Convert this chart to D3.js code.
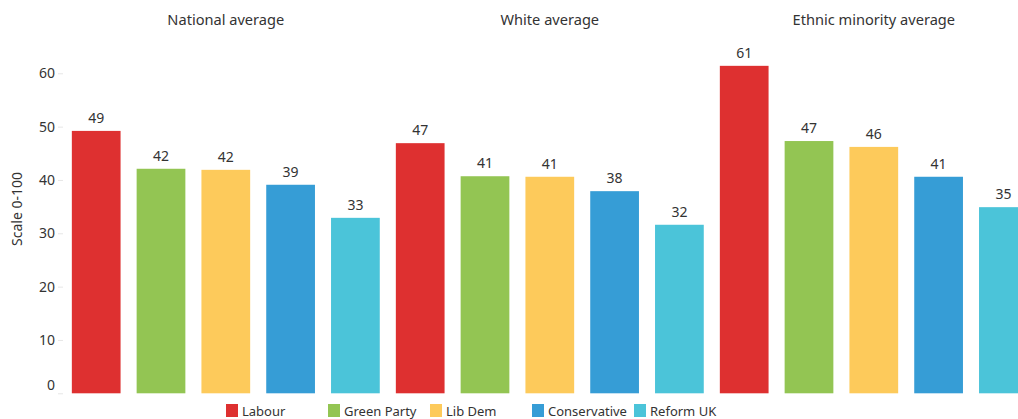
<!DOCTYPE html>
<html><head><meta charset="utf-8">
<script src="https://cdn.jsdelivr.net/npm/d3@7"></script>
<style>body{margin:0;background:#fff;}svg{display:block;font-family:"Noto Sans",sans-serif;}</style>
</head><body><svg id="c" width="1018" height="419"></svg>
<script>
const groups = ["National average", "White average", "Ethnic minority average"];
const parties = ["Labour", "Green Party", "Lib Dem", "Conservative", "Reform UK"];
const colors = ["#de3030", "#93c553", "#fdca5b", "#369dd6", "#4bc4d9"];
const national = [49.2, 42.1, 41.9, 39.1, 32.9];
const white = [46.9, 40.7, 40.6, 37.9, 31.6];
const ethnic = [61.4, 47.3, 46.2, 40.6, 34.9];
const yTicks = [0, 10, 20, 30, 40, 50, 60];

const seriesByGroup = [national, white, ethnic];
const data = [];
groups.forEach((g, gi) => parties.forEach((p, pi) => data.push({group: g, party: p, pi, key: g + "|" + p, value: seriesByGroup[gi][pi]})));

const svg = d3.select("#c");
const x = d3.scaleBand().domain(data.map(d => d.key)).range([63.8, 63.8 + 15 * 64.8]).paddingInner(0.248).paddingOuter(0.124);
const y = d3.scaleLinear().domain([0, 60]).range([393.3, 73.3]);
const color = d3.scaleOrdinal().domain(parties).range(colors);

// y axis
const yAxis = d3.axisLeft(y).tickValues(yTicks).tickSize(5).tickPadding(3);
const ga = svg.append("g").attr("transform", "translate(63,0)").call(yAxis);
ga.select(".domain").remove();
ga.selectAll(".tick line").attr("stroke", "#e6e6e6");
ga.selectAll(".tick text").attr("fill", "#333").style("font-size", "14px").style("font-family", "Noto Sans");
ga.selectAll(".tick").filter(d => d === 0).select("text").attr("dy", "-0.3em");

svg.append("text").attr("transform", "translate(22,209) rotate(-90)").attr("text-anchor", "middle")
  .attr("fill", "#333").style("font-size", "14px").text("Scale 0-100");

// bars
svg.append("g").selectAll("rect").data(data).join("rect")
  .attr("x", d => x(d.key)).attr("width", x.bandwidth())
  .attr("y", d => y(d.value)).attr("height", d => y(0) - y(d.value))
  .attr("fill", d => color(d.party));

svg.append("g").selectAll("text").data(data).join("text")
  .attr("x", d => x(d.key) + x.bandwidth() / 2).attr("y", d => y(d.value) - 8)
  .attr("text-anchor", "middle").attr("fill", "#333").style("font-size", "14px")
  .text(d => Math.round(d.value));

// group titles
svg.append("g").selectAll("text").data(groups).join("text")
  .attr("x", g => { const ks = data.filter(d => d.group === g); return (x(ks[0].key) + x(ks[ks.length-1].key) + x.bandwidth()) / 2; })
  .attr("y", 25).attr("text-anchor", "middle").attr("fill", "#333").style("font-size", "14.6px")
  .text(g => g);

// legend
const lx = d3.scalePoint().domain(parties).range([226, 634]);
const lg = svg.append("g").selectAll("g").data(parties).join("g").attr("transform", p => `translate(${lx(p)},404)`);
lg.append("rect").attr("width", 12).attr("height", 13).attr("fill", p => color(p));
lg.append("text").attr("x", 16).attr("y", 12).attr("fill", "#333").style("font-size", "13px").text(p => p);
</script></body></html>
